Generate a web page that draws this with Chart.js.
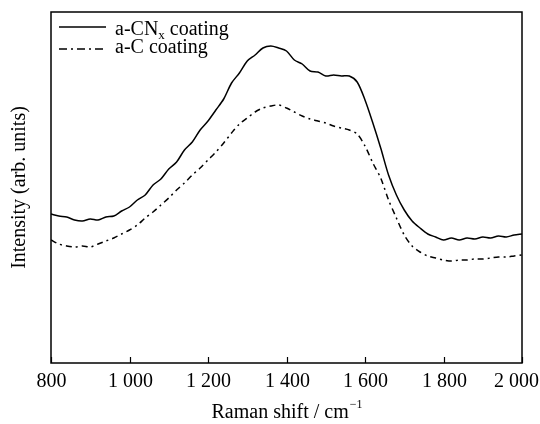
<!DOCTYPE html>
<html>
<head>
<meta charset="utf-8">
<script src="https://cdn.jsdelivr.net/npm/chart.js@4"></script>
<style>
    html, body { margin: 0; padding: 0; background: #fff; }
    #wrap { width: 540px; height: 424px; }
</style>
</head>
<body>
<div id="wrap"><canvas id="raman"></canvas></div>
<script>
// Raman shift (cm-1), read every 20 cm-1
const ramanShift = [800, 820, 840, 860, 880, 900, 920, 940, 960, 980,
    1000, 1020, 1040, 1060, 1080, 1100, 1120, 1140, 1160, 1180,
    1200, 1220, 1240, 1260, 1280, 1300, 1320, 1340, 1360, 1380,
    1400, 1420, 1440, 1460, 1480, 1500, 1520, 1540, 1560, 1580,
    1600, 1620, 1640, 1660, 1680, 1700, 1720, 1740, 1760, 1780,
    1800, 1820, 1840, 1860, 1880, 1900, 1920, 1940, 1960, 1980, 2000];

// intensity, arbitrary units
const cnxIntensity = [149, 147, 146, 143, 142, 144, 143, 146, 147, 152,
    156, 163, 168, 178, 184, 194, 201, 213, 221, 233,
    242, 253, 264, 280, 290, 302, 308, 315, 317, 315,
    312, 303, 299, 292, 291, 287, 288, 287, 287, 281,
    263, 240, 215, 188, 168, 153, 142, 135, 129, 126,
    123, 125, 123, 125, 124, 126, 125, 127, 126, 128, 129];

const cIntensity = [123, 119, 117, 116, 117, 116, 119, 122, 125, 129,
    133, 138, 145, 151, 158, 165, 173, 180, 188, 195,
    203, 211, 220, 230, 239, 245, 251, 255, 257, 258,
    255, 251, 247, 244, 242, 240, 237, 235, 233, 229,
    217, 200, 185, 163, 145, 128, 117, 111, 107, 105,
    103, 102, 103, 103, 104, 104, 105, 106, 106, 107, 108];

const xTicks = [800, 1000, 1200, 1400, 1600, 1800, 2000];
const xTickLabels = ["800", "1 000", "1 200", "1 400", "1 600", "1 800", "2 000"];

const serif = "'Liberation Serif', 'Times New Roman', serif";

function toPoints(ys) {
    return ramanShift.map((x, i) => ({ x: x, y: ys[i] }));
}

// frame, inward ticks, tick labels, legend and axis titles
const decor = {
    id: "decor",
    afterDraw(chart) {
        const ctx = chart.ctx;
        const a = chart.chartArea;
        const xs = chart.scales.x;
        ctx.save();
        ctx.strokeStyle = "#000";
        ctx.fillStyle = "#000";
        ctx.lineWidth = 1.5;
        ctx.strokeRect(a.left, a.top, a.right - a.left, a.bottom - a.top);

        ctx.lineWidth = 1.2;
        ctx.font = "20px " + serif;
        ctx.textBaseline = "alphabetic";
        xTicks.forEach((v, i) => {
            const px = Math.round(xs.getPixelForValue(v)) + 0.5;
            ctx.beginPath();
            ctx.moveTo(px, a.bottom);
            ctx.lineTo(px, a.bottom - 6);
            ctx.stroke();
            const w = ctx.measureText(xTickLabels[i]).width;
            let lx = px - w / 2;
            if (lx + w > chart.width - 1) lx = chart.width - 1 - w;
            ctx.fillText(xTickLabels[i], lx, 387);
        });

        // legend
        ctx.lineWidth = 1.5;
        ctx.beginPath();
        ctx.moveTo(59, 27);
        ctx.lineTo(106, 27);
        ctx.stroke();
        ctx.setLineDash([8, 4, 2, 4]);
        ctx.beginPath();
        ctx.moveTo(59, 49);
        ctx.lineTo(106, 49);
        ctx.stroke();
        ctx.setLineDash([]);

        ctx.textAlign = "left";
        ctx.font = "20px " + serif;
        let x = 115;
        ctx.fillText("a-CN", x, 35);
        x += ctx.measureText("a-CN").width;
        ctx.font = "13px " + serif;
        ctx.fillText("x", x, 39);
        x += ctx.measureText("x").width;
        ctx.font = "20px " + serif;
        ctx.fillText(" coating", x, 35);
        ctx.fillText("a-C coating", 115, 53);

        // x title with superscript
        const main = "Raman shift / cm";
        ctx.font = "20px " + serif;
        const w1 = ctx.measureText(main).width;
        ctx.font = "12px " + serif;
        const w2 = ctx.measureText("\u22121").width;
        const start = (a.left + a.right) / 2 - (w1 + w2) / 2;
        ctx.font = "20px " + serif;
        ctx.fillText(main, start, 418);
        ctx.font = "12px " + serif;
        ctx.fillText("\u22121", start + w1 + 1, 408);

        // y title
        ctx.translate(20, (a.top + a.bottom) / 2);
        ctx.rotate(-Math.PI / 2);
        ctx.textAlign = "center";
        ctx.textBaseline = "middle";
        ctx.font = "20px " + serif;
        ctx.fillText("Intensity (arb. units)", 0, 0);
        ctx.restore();
    }
};

new Chart(document.getElementById("raman"), {
    type: "line",
    data: {
        datasets: [
            {
                label: "a-CNx coating",
                data: toPoints(cnxIntensity),
                borderColor: "#000",
                borderWidth: 1.5,
                pointRadius: 0,
                tension: 0.3
            },
            {
                label: "a-C coating",
                data: toPoints(cIntensity),
                borderColor: "#000",
                borderWidth: 1.5,
                borderDash: [6, 4, 2, 4],
                pointRadius: 0,
                tension: 0.3
            }
        ]
    },
    options: {
        responsive: true,
        maintainAspectRatio: false,
        animation: false,
        layout: { padding: { top: 12, right: 18, left: 0, bottom: 0 } },
        plugins: {
            legend: { display: false },
            tooltip: { enabled: false }
        },
        scales: {
            x: {
                type: "linear",
                min: 800,
                max: 2000,
                afterBuildTicks: axis => { axis.ticks = xTicks.map(v => ({ value: v })); },
                afterFit: axis => {
                    axis.height = 61;
                    axis.paddingLeft = 0;
                    axis.paddingRight = 0;
                },
                grid: { display: false, drawTicks: false },
                border: { display: false },
                ticks: { display: false }
            },
            y: {
                min: 0,
                max: 351,
                afterFit: axis => { axis.width = 51; },
                grid: { display: false, drawTicks: false },
                border: { display: false },
                ticks: { display: false }
            }
        }
    },
    plugins: [decor]
});
</script>
</body>
</html>
